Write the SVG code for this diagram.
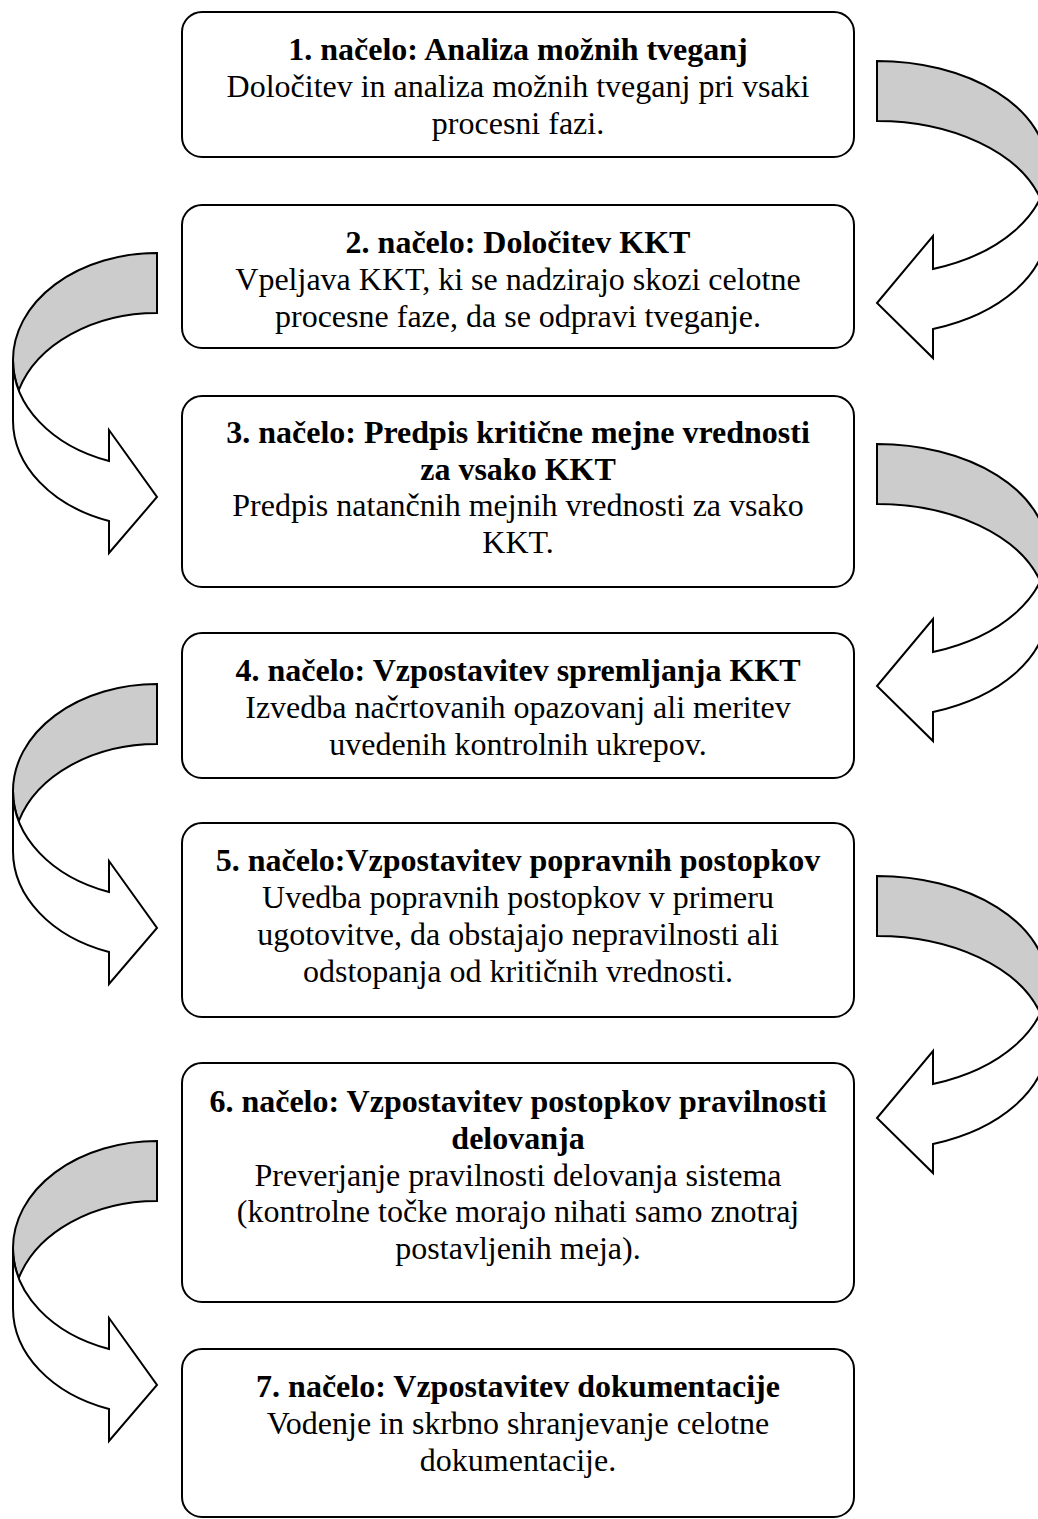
<svg xmlns="http://www.w3.org/2000/svg" xmlns:xlink="http://www.w3.org/1999/xlink" width="1038" height="1519" viewBox="0 0 1038 1519">
  <style>
    .box { fill: #ffffff; stroke: #000000; stroke-width: 2; }
    .t { font-family: "Liberation Serif", "Times New Roman", serif; font-size: 32px; fill: #000000; text-anchor: middle; }
    .b { font-weight: bold; }
    .back { fill: #cccccc; stroke: #000000; stroke-width: 2; stroke-linejoin: miter; }
    .front { fill: #ffffff; stroke: #000000; stroke-width: 2; stroke-linejoin: miter; }
  </style>
  <defs>
    <g id="arrowL">
      <path class="back" d="M157,0 A144 107 0 0 0 13,107 A144 107 0 0 0 18.8,137 A144 107 0 0 1 157,60 Z"/>
      <path class="front" d="M109,208 L109,177 L157,244 L109,300 L109,268 A144 107 0 0 1 13,167 L13,107 A144 107 0 0 0 109,208 Z"/>
    </g>
    <g id="arrowR">
      <path class="back" d="M877,0 A170 107 0 0 1 1047,107 A170 107 0 0 1 1040.2,137 A170 107 0 0 0 877,60 Z"/>
      <path class="front" d="M933,208 L933,175 L877,242 L933,297 L933,268 A170 107 0 0 0 1047,167 L1047,107 A170 107 0 0 1 933,208 Z"/>
    </g>
  </defs>

  <g id="connectors">
    <use xlink:href="#arrowR" href="#arrowR" transform="translate(0,61)"/>
    <use xlink:href="#arrowL" href="#arrowL" transform="translate(0,253)"/>
    <use xlink:href="#arrowR" href="#arrowR" transform="translate(0,444)"/>
    <use xlink:href="#arrowL" href="#arrowL" transform="translate(0,684)"/>
    <use xlink:href="#arrowR" href="#arrowR" transform="translate(0,876)"/>
    <use xlink:href="#arrowL" href="#arrowL" transform="translate(0,1141)"/>
  </g>

  <g id="node1">
    <rect class="box" x="182" y="12" width="672" height="145" rx="20" ry="20"/>
    <text class="t b" x="518" y="60">1. načelo: Analiza možnih tveganj</text>
    <text class="t" x="518" y="97">Določitev in analiza možnih tveganj pri vsaki</text>
    <text class="t" x="518" y="134">procesni fazi.</text>
  </g>

  <g id="node2">
    <rect class="box" x="182" y="205" width="672" height="143" rx="20" ry="20"/>
    <text class="t b" x="518" y="253">2. načelo: Določitev KKT</text>
    <text class="t" x="518" y="290">Vpeljava KKT, ki se nadzirajo skozi celotne</text>
    <text class="t" x="518" y="327">procesne faze, da se odpravi tveganje.</text>
  </g>

  <g id="node3">
    <rect class="box" x="182" y="396" width="672" height="191" rx="20" ry="20"/>
    <text class="t b" x="518" y="443">3. načelo: Predpis kritične mejne vrednosti</text>
    <text class="t b" x="518" y="480">za vsako KKT</text>
    <text class="t" x="518" y="516">Predpis natančnih mejnih vrednosti za vsako</text>
    <text class="t" x="518" y="553">KKT.</text>
  </g>

  <g id="node4">
    <rect class="box" x="182" y="633" width="672" height="145" rx="20" ry="20"/>
    <text class="t b" x="518" y="681">4. načelo: Vzpostavitev spremljanja KKT</text>
    <text class="t" x="518" y="718">Izvedba načrtovanih opazovanj ali meritev</text>
    <text class="t" x="518" y="755">uvedenih kontrolnih ukrepov.</text>
  </g>

  <g id="node5">
    <rect class="box" x="182" y="823" width="672" height="194" rx="20" ry="20"/>
    <text class="t b" x="518" y="871">5. načelo:Vzpostavitev popravnih postopkov</text>
    <text class="t" x="518" y="908">Uvedba popravnih postopkov v primeru</text>
    <text class="t" x="518" y="945">ugotovitve, da obstajajo nepravilnosti ali</text>
    <text class="t" x="518" y="982">odstopanja od kritičnih vrednosti.</text>
  </g>

  <g id="node6">
    <rect class="box" x="182" y="1063" width="672" height="239" rx="20" ry="20"/>
    <text class="t b" x="518" y="1112">6. načelo: Vzpostavitev postopkov pravilnosti</text>
    <text class="t b" x="518" y="1149">delovanja</text>
    <text class="t" x="518" y="1186">Preverjanje pravilnosti delovanja sistema</text>
    <text class="t" x="518" y="1222">(kontrolne točke morajo nihati samo znotraj</text>
    <text class="t" x="518" y="1259">postavljenih meja).</text>
  </g>

  <g id="node7">
    <rect class="box" x="182" y="1349" width="672" height="168" rx="20" ry="20"/>
    <text class="t b" x="518" y="1397">7. načelo: Vzpostavitev dokumentacije</text>
    <text class="t" x="518" y="1434">Vodenje in skrbno shranjevanje celotne</text>
    <text class="t" x="518" y="1471">dokumentacije.</text>
  </g>
</svg>
